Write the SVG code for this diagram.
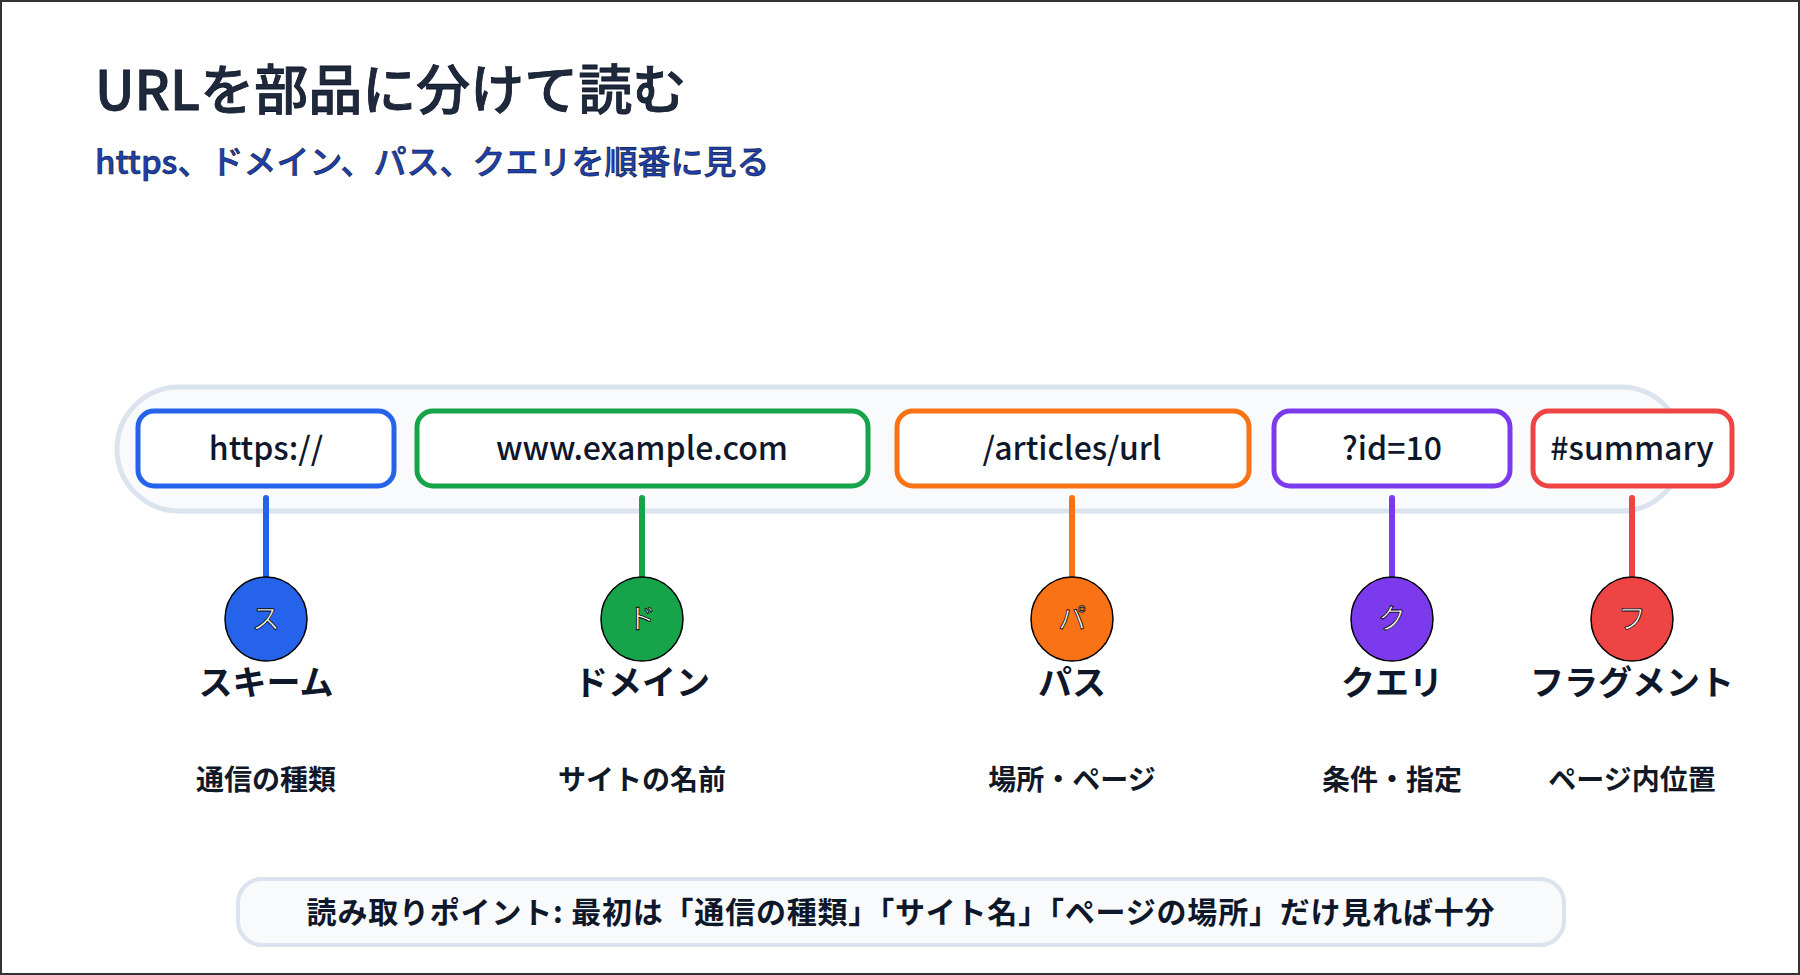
<svg xmlns="http://www.w3.org/2000/svg" width="1800" height="975" viewBox="0 0 1800 975">
<style>
text{font-family:"Noto Sans CJK JP","Noto Sans",sans-serif}
.seg{fill:#fff;stroke-width:5}
.segt{font-size:32px;font-weight:500;fill:#0f172a;text-anchor:middle}
.con{stroke-width:6;stroke-linecap:round}
.dot{stroke:#000;stroke-width:1.5}
.ini{font-size:28px;fill:#fff;stroke:#000;stroke-width:0.8;text-anchor:middle}
.lab{font-size:34px;font-weight:700;fill:#0f172a;text-anchor:middle}
.desc{font-size:28px;font-weight:700;fill:#111827;text-anchor:middle}
</style>
<rect x="1" y="1" width="1798" height="973" fill="#fff" stroke="#333" stroke-width="2"/>
<g id="title">
<text x="95" y="110" font-size="54" font-weight="500" fill="#1e293b" stroke="#0f172a" stroke-width="0.8">URLを部品に分けて読む</text>
<text x="95" y="174" font-size="33" font-weight="500" fill="#1e40af" stroke="#0f172a" stroke-width="0.6">https、ドメイン、パス、クエリを順番に見る</text>
</g>
<g id="bar"><rect x="117" y="387" width="1566" height="124" rx="62" fill="#f8fafc" stroke="#dbe3ee" stroke-width="5"/></g>
<g id="connectors">
<line class="con" x1="266" y1="498" x2="266" y2="578" stroke="#2563eb"/>
<line class="con" x1="642" y1="498" x2="642" y2="578" stroke="#16a34a"/>
<line class="con" x1="1072" y1="498" x2="1072" y2="578" stroke="#f97316"/>
<line class="con" x1="1392" y1="498" x2="1392" y2="578" stroke="#7c3aed"/>
<line class="con" x1="1632" y1="498" x2="1632" y2="578" stroke="#ef4444"/>
</g>
<g id="scheme">
<rect class="seg" x="138" y="411" width="256" height="75" rx="16" stroke="#2563eb"/>
<text class="segt" x="266" y="460">https://</text>
<ellipse class="dot" cx="266" cy="619" rx="41" ry="42" fill="#2563eb"/>
<text class="ini" x="266" y="629">ス</text>
<text class="lab" x="266" y="695">スキーム</text>
<text class="desc" x="266" y="790">通信の種類</text>
</g>
<g id="domain">
<rect class="seg" x="417" y="411" width="451" height="75" rx="16" stroke="#16a34a"/>
<text class="segt" x="642" y="460">www.example.com</text>
<ellipse class="dot" cx="642" cy="619" rx="41" ry="42" fill="#16a34a"/>
<text class="ini" x="642" y="629">ド</text>
<text class="lab" x="642" y="695">ドメイン</text>
<text class="desc" x="642" y="790">サイトの名前</text>
</g>
<g id="path">
<rect class="seg" x="897" y="411" width="352" height="75" rx="16" stroke="#f97316"/>
<text class="segt" x="1072" y="460">/articles/url</text>
<ellipse class="dot" cx="1072" cy="619" rx="41" ry="42" fill="#f97316"/>
<text class="ini" x="1072" y="629">パ</text>
<text class="lab" x="1072" y="695">パス</text>
<text class="desc" x="1072" y="790">場所・ページ</text>
</g>
<g id="query">
<rect class="seg" x="1274" y="411" width="236" height="75" rx="16" stroke="#7c3aed"/>
<text class="segt" x="1392" y="460">?id=10</text>
<ellipse class="dot" cx="1392" cy="619" rx="41" ry="42" fill="#7c3aed"/>
<text class="ini" x="1392" y="629">ク</text>
<text class="lab" x="1392" y="695">クエリ</text>
<text class="desc" x="1392" y="790">条件・指定</text>
</g>
<g id="fragment">
<rect class="seg" x="1533" y="411" width="199" height="75" rx="16" stroke="#ef4444"/>
<text class="segt" x="1632" y="460">#summary</text>
<ellipse class="dot" cx="1632" cy="619" rx="41" ry="42" fill="#ef4444"/>
<text class="ini" x="1632" y="629">フ</text>
<text class="lab" x="1632" y="695">フラグメント</text>
<text class="desc" x="1632" y="790">ページ内位置</text>
</g>
<g id="note">
<rect x="238" y="879" width="1326" height="66" rx="24" fill="#f8fafc" stroke="#dbe3ee" stroke-width="4"/>
<text x="901" y="923" font-size="30" font-weight="700" fill="#0f172a" text-anchor="middle" letter-spacing="0.8">読み取りポイント: 最初は「通信の種類」「サイト名」「ページの場所」だけ見れば十分</text>
</g>
</svg>
